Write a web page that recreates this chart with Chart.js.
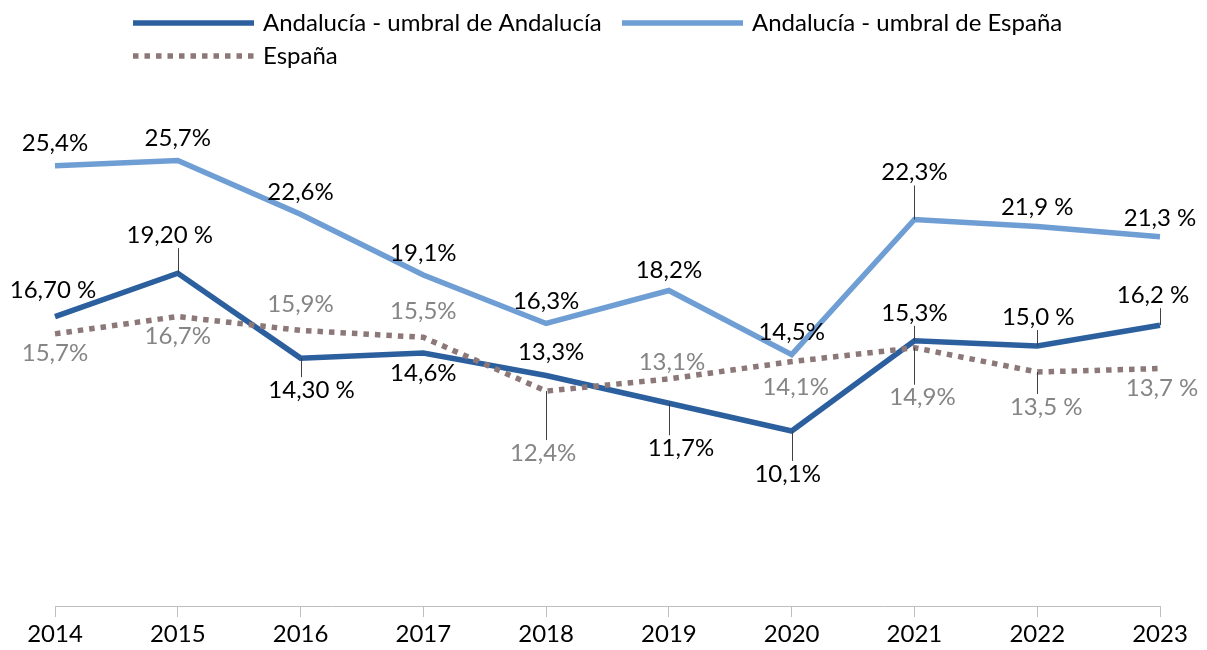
<!DOCTYPE html>
<html>
<head>
<meta charset="utf-8">
<title>Andalucía vs España</title>
<script src="https://cdn.jsdelivr.net/npm/chart.js@4.4.1/dist/chart.umd.min.js"></script>
<style>
  html, body { margin: 0; padding: 0; background: #fff; }
  #wrap { width: 1207px; height: 650px; position: relative; }
</style>
</head>
<body>
<div id="wrap"><canvas id="chart"></canvas></div>
<script>
// Data
const years = ["2014", "2015", "2016", "2017", "2018", "2019", "2020", "2021", "2022", "2023"];

const umbralAndalucia = [16.7, 19.2, 14.3, 14.6, 13.3, 11.7, 10.1, 15.3, 15.0, 16.2];
const umbralEspana = [25.4, 25.7, 22.6, 19.1, 16.3, 18.2, 14.5, 22.3, 21.9, 21.3];
const espana = [15.7, 16.7, 15.9, 15.5, 12.4, 13.1, 14.1, 14.9, 13.5, 13.7];

// label texts as printed (the source mixes formats)
const umbralAndaluciaText = ["16,70 %", "19,20 %", "14,30 %", "14,6%", "13,3%", "11,7%", "10,1%", "15,3%", "15,0 %", "16,2 %"];
const umbralEspanaText = ["25,4%", "25,7%", "22,6%", "19,1%", "16,3%", "18,2%", "14,5%", "22,3%", "21,9 %", "21,3 %"];
const espanaText = ["15,7%", "16,7%", "15,9%", "15,5%", "12,4%", "13,1%", "14,1%", "14,9%", "13,5 %", "13,7 %"];

const FONT = "Lato, 'Open Sans', sans-serif";
const FONT_SIZE = 24;

// label placement: [dx, dy, leader line?] relative to the point
const placeUmbralAnd = [[-2, -26, 0], [-8, -38, 1], [11, 32, 1], [0, 20, 0], [5, -23, 0],
                        [12, 45, 1], [-4, 43, 1], [0, -28, 1], [1, -29, 1], [-7, -30, 1]];
const placeUmbralEsp = [[0, -22, 0], [0, -22, 0], [0, -22, 0], [0, -22, 0], [0, -22, 0],
                        [0, -20, 0], [0, -22, 0], [0, -47, 1], [0, -19, 0], [0, -19, 0]];
const placeEspana = [[0, 19, 0], [0, 20, 0], [0, -26, 0], [0, -26, 0], [-3, 62, 1],
                     [3, -17, 0], [4, 26, 0], [8, 50, 1], [9, 35, 1], [2, 20, 0]];

// data labels with leader lines
const valueLabels = {
  id: "valueLabels",
  afterDatasetsDraw(chart) {
    const ctx = chart.ctx;
    ctx.save();
    ctx.font = FONT_SIZE + "px " + FONT;
    ctx.textAlign = "center";
    ctx.textBaseline = "middle";
    chart.data.datasets.forEach((ds, di) => {
      const meta = chart.getDatasetMeta(di);
      meta.data.forEach((pt, i) => {
        const [dx, dy, leader] = ds.place[i];
        const lx = pt.x + dx;
        const ly = pt.y + dy;
        if (leader) {
          const end = dy > 0 ? ly - 13 : ly + 13;
          ctx.strokeStyle = "#404040";
          ctx.lineWidth = 1;
          ctx.beginPath();
          ctx.moveTo(Math.round(pt.x) + 0.5, pt.y);
          ctx.lineTo(Math.round(pt.x) + 0.5, end);
          ctx.stroke();
        }
        ctx.fillStyle = ds.labelColor;
        ctx.fillText(ds.texts[i], lx, ly);
      });
    });
    ctx.restore();
  }
};

// legend laid out like the source (two columns, España on 2nd row)
const customLegend = {
  id: "customLegend",
  afterDraw(chart) {
    const ctx = chart.ctx;
    const slots = [
      { x1: 133, x2: 254, y: 23, tx: 263 },
      { x1: 622, x2: 743, y: 23, tx: 752 },
      { x1: 133, x2: 254, y: 56, tx: 263 }
    ];
    ctx.save();
    ctx.font = FONT_SIZE + "px " + FONT;
    ctx.textBaseline = "middle";
    ctx.textAlign = "left";
    chart.data.datasets.forEach((ds, i) => {
      const s = slots[i];
      ctx.strokeStyle = ds.borderColor;
      ctx.lineWidth = ds.borderWidth;
      ctx.setLineDash(ds.borderDash || []);
      ctx.lineCap = "butt";
      ctx.beginPath();
      ctx.moveTo(s.x1, s.y);
      ctx.lineTo(s.x2, s.y);
      ctx.stroke();
      ctx.setLineDash([]);
      ctx.fillStyle = "#000";
      ctx.fillText(ds.label, s.tx, s.y);
    });
    ctx.restore();
  }
};

const ctx = document.getElementById("chart").getContext("2d");
new Chart(ctx, {
  type: "line",
  data: {
    labels: years,
    datasets: [
      {
        label: "Andalucía - umbral de Andalucía",
        data: umbralAndalucia,
        texts: umbralAndaluciaText,
        place: placeUmbralAnd,
        labelColor: "#000",
        borderColor: "#2B5F9E",
        borderWidth: 5.5,
        order: 1
      },
      {
        label: "Andalucía - umbral de España",
        data: umbralEspana,
        texts: umbralEspanaText,
        place: placeUmbralEsp,
        labelColor: "#000",
        borderColor: "#6F9ED4",
        borderWidth: 5.5,
        order: 2
      },
      {
        label: "España",
        data: espana,
        texts: espanaText,
        place: placeEspana,
        labelColor: "#858585",
        borderColor: "#8C7878",
        borderWidth: 5.5,
        borderDash: [5.5, 6],
        order: 0
      }
    ]
  },
  options: {
    responsive: true,
    maintainAspectRatio: false,
    animation: false,
    events: [],
    elements: {
      point: { radius: 0 },
      line: { tension: 0, borderCapStyle: "butt", borderJoinStyle: "miter", fill: false }
    },
    layout: { padding: { left: 55, right: 47, top: 86, bottom: 0 } },
    plugins: {
      legend: { display: false },
      tooltip: { enabled: false }
    },
    scales: {
      x: {
        offset: false,
        grid: { display: true, drawOnChartArea: false, drawTicks: true, tickLength: 11, color: "#BFBFBF", lineWidth: 1 },
        border: { display: true, color: "#BFBFBF", width: 1 },
        ticks: { color: "#000", font: { family: FONT, size: FONT_SIZE }, padding: 3, maxRotation: 0, autoSkip: false },
        afterFit(scale) { scale.height = 44; }
      },
      y: {
        display: false,
        min: 0,
        max: 30
      }
    }
  },
  plugins: [valueLabels, customLegend]
});
</script>
</body>
</html>
